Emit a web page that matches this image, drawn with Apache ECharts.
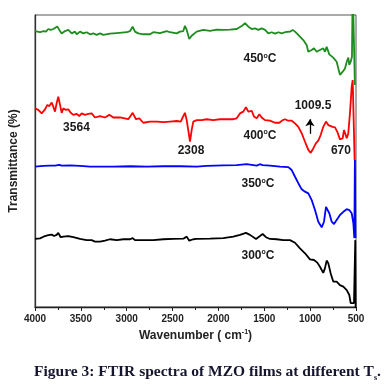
<!DOCTYPE html>
<html><head><meta charset="utf-8">
<script src="https://cdn.jsdelivr.net/npm/echarts@6/dist/echarts.min.js"></script>
<style>html,body{margin:0;padding:0;background:#fff}#c{width:390px;height:388px}</style>
</head><body><div id="c"></div>
<script>
// x-axis tick values (wavenumber, cm^-1)
const xTicks = [4000, 3500, 3000, 2500, 2000, 1500, 1000, 500];

// 450 °C (green)
const wn450 = [4000,3945,3909,3880,3855,3829,3800,3782,3757,3735,3709,3673,3637,3600,3564,3545,3509,3473,3437,3400,3364,3327,3291,3255,3182,3109,3000,2964,2935,2910,2874,2819,2746,2710,2637,2564,2528,2455,2419,2383,2365,2346,2318,2292,2274,2237,2165,2092,2019,1947,1874,1801,1746,1710,1674,1637,1601,1565,1528,1492,1456,1419,1383,1347,1310,1274,1220,1190,1165,1129,1075,1038,1020,983,958,929,893,857,838,820,791,748,711,675,645,620,601,584,573,558,544,536,512];
const t450 = [94.5,94.1,94.5,94.3,95.2,94.9,95.2,94.8,96.1,94.9,93.7,94.5,94.9,93.7,94.3,93.4,94.3,93.7,94.1,93.4,93.7,93.2,93.7,93.2,93.6,93.8,94.1,94.5,96.0,94.3,93.7,93.4,93.4,94.1,93.8,94.5,94.1,93.7,94.3,94.5,96.3,94.9,91.8,92.9,93.2,94.3,94.9,94.6,95.0,94.9,95.0,95.2,96.2,97.2,96.0,95.2,95.4,94.9,95.4,94.9,93.7,94.1,93.6,94.1,93.7,94.1,94.3,94.9,94.3,93.2,91.4,89.7,87.4,88.0,88.6,87.4,88.0,88.6,87.4,89.1,86.5,85.4,84.0,79.5,80.6,81.7,84.0,85.4,82.9,84.0,85.7,110,76];

// 400 °C (red)
const wn400 = [4000,3964,3927,3891,3866,3844,3818,3800,3782,3764,3746,3727,3709,3691,3662,3637,3611,3582,3545,3517,3491,3455,3419,3382,3346,3291,3237,3190,3146,3073,2983,2935,2899,2863,2819,2746,2673,2601,2528,2455,2411,2390,2365,2346,2329,2310,2292,2274,2237,2183,2128,2056,1983,1910,1838,1801,1765,1729,1700,1674,1637,1612,1583,1554,1528,1492,1438,1383,1336,1299,1274,1238,1201,1165,1129,1092,1056,1020,994,966,936,911,885,857,827,802,784,754,729,704,675,645,631,617,601,584,566,547,536,515];
const t400 = [68.0,67.5,66.3,67.7,69.2,68.8,70.0,68.6,66.9,69.8,72.0,69.2,66.5,68.0,67.5,67.7,66.5,65.8,66.1,65.4,66.3,65.8,66.1,66.3,64.9,65.4,64.9,65.8,64.9,64.9,64.3,66.5,64.3,64.6,63.1,63.5,63.5,63.3,63.5,63.7,63.5,64.9,66.5,64.0,60.6,56.6,60.6,63.5,64.0,64.0,64.3,64.0,64.3,64.3,64.3,64.6,66.3,66.9,68.4,66.9,67.2,65.2,64.6,66.0,64.9,64.0,63.8,63.1,63.1,64.0,64.3,63.8,63.8,62.9,61.7,59.5,56.6,53.8,52.8,54.3,56.1,57.0,58.9,61.7,63.5,62.3,62.9,61.7,61.5,60.0,57.4,57.8,60.6,61.2,57.8,59.5,66.3,75.4,77.7,50.3];

// 350 °C (blue)
const wn350 = [4000,3909,3836,3782,3735,3709,3618,3509,3400,3146,2964,2782,2601,2419,2237,2128,1947,1801,1692,1583,1547,1518,1438,1329,1238,1201,1165,1129,1092,1056,1020,983,947,911,874,849,827,809,791,765,740,711,675,638,601,573,547,529,518,512,506];
const t350 = [48.1,48.3,48.4,48.4,48.7,48.4,48.5,48.3,48.1,48.1,48.2,48.1,48.2,48.2,48.1,48.3,48.5,48.6,48.9,48.4,48.9,48.6,48.4,48.1,47.9,46.9,44.6,42.4,40.3,39.5,38.9,36.6,33.2,29.2,27.3,29.2,34.3,34.9,32.1,29.2,28.4,29.8,31.5,32.6,33.5,33.2,32.1,28.7,23.6,50.3,23.6];

// 300 °C (black)
const wn300 = [4000,3945,3891,3855,3818,3793,3764,3746,3720,3691,3637,3582,3509,3437,3382,3346,3291,3237,3182,3109,3037,2964,2935,2910,2819,2710,2601,2492,2383,2346,2318,2274,2237,2092,1947,1838,1765,1700,1656,1590,1547,1518,1481,1438,1365,1293,1220,1165,1111,1056,1002,958,922,893,857,838,820,802,776,748,711,675,638,601,573,558,522,508,503];
const t300 = [23.3,23.5,24.3,24.6,24.8,24.3,24.7,25.4,23.9,24.1,24.3,23.9,23.3,22.9,22.9,22.4,22.4,22.7,23.2,22.9,23.2,23.2,23.6,22.9,22.9,22.9,23.2,23.3,23.4,24.1,22.7,23.2,23.3,23.4,23.6,24.1,24.7,25.4,24.7,23.3,24.3,25.0,23.9,23.3,23.2,22.9,22.9,22.0,20.1,18.4,16.3,16.1,15.2,13.8,11.7,13.3,15.9,15.0,11.5,8.7,8.7,7.5,7.0,5.8,4.1,1.3,1.3,22.9,-5];

const seriesNames = ['450°C', '400°C', '350°C', '300°C'];
const seriesColors = ['#1e8c1e', '#ff0000', '#0000ff', '#000000'];

const pair = (w, t) => w.map((x, i) => [x, t[i]]);
const FONT = 'Liberation Sans, Arial, sans-serif';
const rich = {
  n: {fontSize: 12, fontWeight: 'bold', fontFamily: FONT, color: '#1a1a1a', lineHeight: 14},
  o: {fontSize: 7, fontWeight: 'bold', fontFamily: FONT, color: '#1a1a1a', verticalAlign: 'top', lineHeight: 14, padding: [0, 0, 6, 0]}
};
const deg = s => '{n|' + s + '}{o|o}{n|C}';
const ann = (w, v, text) => ({coord: [w, v], label: {formatter: text}});

const chart = echarts.init(document.getElementById('c'), null, {renderer: 'canvas'});
const datasets = [pair(wn450, t450), pair(wn400, t400), pair(wn350, t350), pair(wn300, t300)];

const series = datasets.map((d, i) => ({
  name: seriesNames[i], type: 'line', data: d, showSymbol: false, symbol: 'none',
  clip: true, animation: false,
  lineStyle: {color: seriesColors[i], width: 1.8}
}));
series[3].markPoint = {
  symbol: 'circle', symbolSize: 1, itemStyle: {color: 'rgba(0,0,0,0)'}, silent: true, animation: false,
  label: {show: true, position: 'inside', rich: rich},
  data: [
    ann(1547, 84.9, deg('450')),
    ann(969, 68.8, '{n|1009.5}'),
    ann(3548, 61.5, '{n|3564}'),
    ann(2299, 53.4, '{n|2308}'),
    ann(1547, 58.6, deg('400')),
    ann(664, 53.4, '{n|670}'),
    ann(1569, 42.1, deg('350')),
    ann(1569, 17.5, deg('300'))
  ]
};
series[3].markLine = {
  silent: true, animation: false, symbol: ['none', 'arrow'], symbolSize: 7,
  lineStyle: {color: '#000', width: 1.3, type: 'solid'}, label: {show: false},
  data: [[{coord: [1002, 59.3]}, {coord: [1002, 64.3]}]]
};

chart.setOption({
  animation: false,
  title: {
    text: '{a|Figure 3: FTIR spectra of MZO films at different T}{b|s}{a|.}',
    left: 29, top: 357,
    textStyle: {
      rich: {
        a: {fontFamily: 'Liberation Serif, Times New Roman, serif', fontWeight: 'bold', fontSize: 15.5, color: '#15152e', lineHeight: 20},
        b: {fontFamily: 'Liberation Serif, Times New Roman, serif', fontWeight: 'bold', fontSize: 8, color: '#15152e', verticalAlign: 'bottom', lineHeight: 20, padding: [7, 0, 0, 0]}
      }
    }
  },
  grid: {left: 35, right: 34, top: 15, bottom: 81, show: true, borderColor: '#555', borderWidth: 1},
  xAxis: {
    type: 'value', inverse: true, min: 500, max: 4000, interval: 500,
    axisLine: {onZero: false, lineStyle: {color: '#222', width: 1.3}},
    axisTick: {show: true, length: 4, lineStyle: {color: '#222', width: 1}},
    minorTick: {show: true, splitNumber: 2, length: 3, lineStyle: {color: '#222', width: 1}},
    splitLine: {show: false},
    axisLabel: {fontSize: 10, fontWeight: 'bold', fontFamily: FONT, color: '#222', margin: 7,
      customValues: xTicks, formatter: v => String(v)},
    name: '{a|Wavenumber ( cm}{s|-1}{a|)}', nameLocation: 'middle', nameGap: 21,
    nameTextStyle: {rich: {
      a: {fontSize: 12, fontWeight: 'bold', fontFamily: FONT, color: '#222', lineHeight: 14},
      s: {fontSize: 7, fontWeight: 'bold', fontFamily: FONT, color: '#222', verticalAlign: 'top', lineHeight: 14, padding: [0, 0, 6, 0]}
    }}
  },
  yAxis: {
    type: 'value', min: 0, max: 100,
    axisLine: {show: true, onZero: false, lineStyle: {color: '#333', width: 1.3}},
    axisTick: {show: false}, axisLabel: {show: false}, splitLine: {show: false},
    name: 'Transmittance (%)', nameLocation: 'middle', nameGap: 15,
    nameTextStyle: {fontSize: 12, fontWeight: 'bold', fontFamily: FONT, color: '#222'}
  },
  series: series
});
</script></body></html>
